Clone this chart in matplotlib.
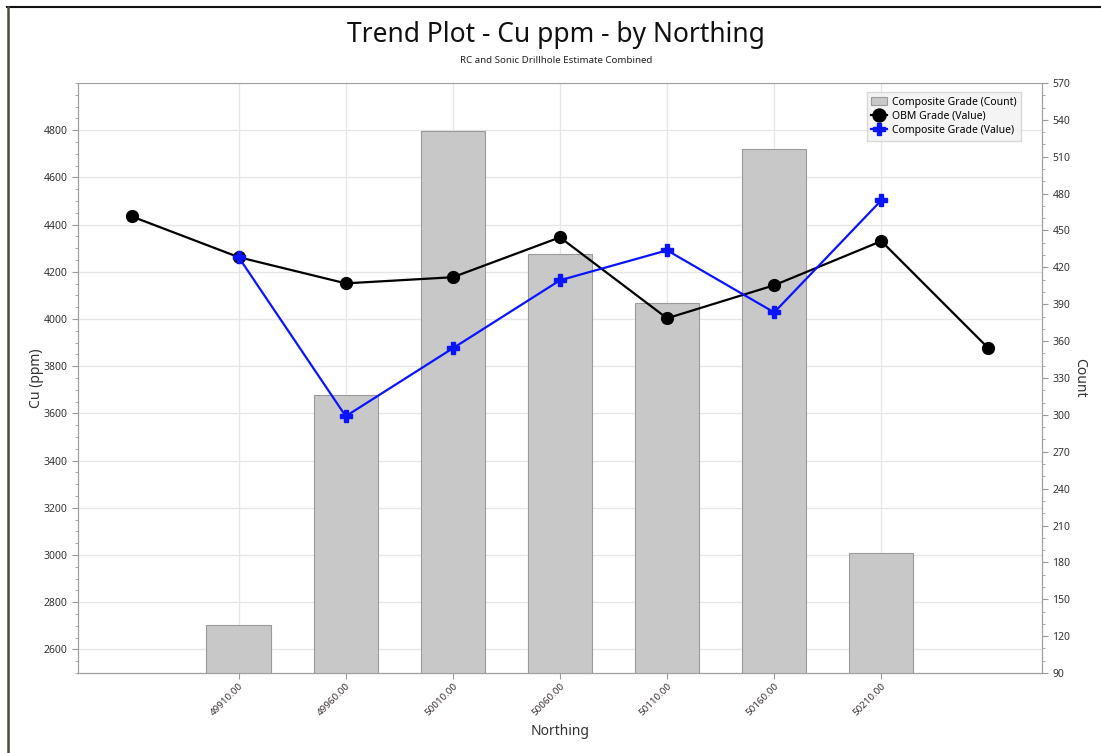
import matplotlib.pyplot as plt
from matplotlib.ticker import MultipleLocator
from matplotlib.lines import Line2D

plt.rcParams['font.family'] = ['Noto Sans', 'DejaVu Sans']

# data
bar_north = [49910, 49960, 50010, 50060, 50110, 50160, 50210]
bar_count = [129, 316, 531, 431, 391, 516, 188]

obm_north = [49860, 49910, 49960, 50010, 50060, 50110, 50160, 50210, 50260]
obm_grade = [4435, 4262, 4151, 4177, 4346, 4003, 4143, 4330, 3876]

comp_north = [49910, 49960, 50010, 50060, 50110, 50160, 50210]
comp_grade = [4262, 3588, 3876, 4164, 4291, 4028, 4503]

tick_north = [49910, 49960, 50010, 50060, 50110, 50160, 50210]

fig = plt.figure(figsize=(11.01, 7.53), dpi=100)
ax = fig.add_axes([0.0708, 0.1062, 0.8756, 0.7836])
ax2 = ax.twinx()
ax3 = ax.twinx()

# frame lines of the window
fig.add_artist(Line2D([0.0065, 1.0], [0.9907, 0.9907], color='#111111', lw=1.5))
fig.add_artist(Line2D([0.0070, 0.0070], [0.0, 0.9907], color='#4a4c38', lw=1.8))

ax.set_xlim(49835, 50285)
ax.set_ylim(2500, 5000)
ax.yaxis.set_minor_locator(MultipleLocator(50))
ax.set_yticks(range(2600, 4801, 200))
ax.set_xticks(tick_north)
ax.set_xticklabels(['%.2f' % v for v in tick_north], rotation=45, ha='right',
                   rotation_mode='anchor', fontsize=7, color='#3a3030')
ax.grid(True, color='#e6e6e6', lw=0.9)
ax.set_axisbelow(True)
ax.tick_params(axis='y', labelsize=7.5, labelcolor='#333333', color='#999999', length=4)
ax.tick_params(axis='y', which='minor', color='#999999', length=2)
ax.tick_params(axis='x', color='#999999', length=4, pad=2)
ax.set_ylabel('Cu (ppm)', fontsize=10, color='#333333', labelpad=0)
ax.set_xlabel('Northing', fontsize=10, color='#333333', labelpad=5)

# bars on the count axis
ax2.bar(bar_north, bar_count, width=30, color='#c8c8c8', edgecolor='#9a9a9a',
        lw=0.8, label='Composite Grade (Count)')
ax2.set_ylim(90, 570)
ax2.yaxis.set_major_locator(MultipleLocator(30))
ax2.yaxis.set_minor_locator(MultipleLocator(10))
ax2.tick_params(axis='y', labelsize=7.5, labelcolor='#333333', color='#999999', length=4)
ax2.tick_params(axis='y', which='minor', color='#999999', length=2)
ax2.set_ylabel('Count', fontsize=10, color='#333333', rotation=270, labelpad=12)

# lines on top, sharing the Cu scale
ax3.set_ylim(ax.get_ylim())
ax3.axis('off')
ax3.plot(obm_north, obm_grade, color='black', lw=1.6, marker='o', ms=8.5,
         label='OBM Grade (Value)')
ax3.plot(comp_north, comp_grade, color='#0a14ff', lw=1.6, marker='P', ms=8.5,
         label='Composite Grade (Value)')

for a in (ax, ax2):
    for s in a.spines.values():
        s.set_color('#a0a0a0')
ax.spines['top'].set_color('#e0e0e0')
ax.spines['bottom'].set_color('#707070')

h1, l1 = ax2.get_legend_handles_labels()
h3, l3 = ax3.get_legend_handles_labels()
leg = ax3.legend(h1 + h3, l1 + l3, loc='upper right', bbox_to_anchor=(0.9840, 0.9935),
                 fontsize=7.5, frameon=True, fancybox=False, borderpad=0.45,
                 handlelength=1.5, handletextpad=0.5, labelspacing=0.3,
                 markerscale=1.1)
leg.get_frame().set_facecolor('#f2f2f2')
leg.get_frame().set_edgecolor('#d0d0d0')

fig.text(0.505, 0.954, 'Trend Plot - Cu ppm - by Northing', ha='center', va='center',
         fontsize=19, color='#111111')
fig.text(0.505, 0.92, 'RC and Sonic Drillhole Estimate Combined', ha='center',
         va='center', fontsize=7, color='#222222')

fig.savefig('out.png', dpi=100)
